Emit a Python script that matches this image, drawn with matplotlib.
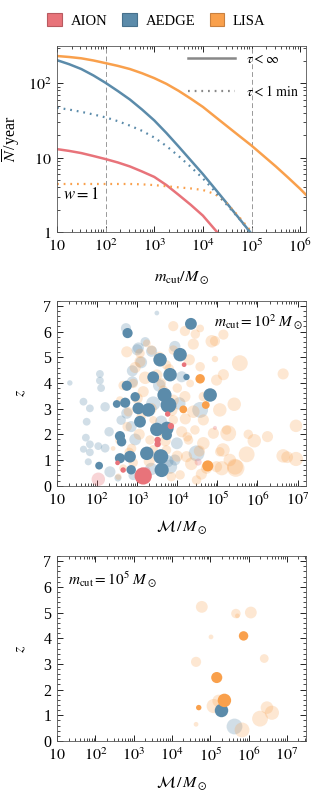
import numpy as np
import matplotlib
matplotlib.use("Agg")
from matplotlib import pyplot as plt
from matplotlib.lines import Line2D
from matplotlib.patches import Patch
from matplotlib.ticker import LogLocator, FuncFormatter, MultipleLocator, NullFormatter

plt.rcParams['font.family'] = 'serif'
plt.rcParams['font.serif'] = ['Liberation Serif', 'DejaVu Serif']
plt.rcParams['mathtext.fontset'] = 'stix'

# Colours
C_AION = '#E8737A'
C_AEDGE = '#5B8BAA'
C_LISA = '#F9A04C'

# ---------------- Panel 1: expected number of events vs m_cut ----------------
m_grid = [10, 17.8, 31.6, 56.2, 100, 178, 316, 562, 1000, 1778, 3162, 5623,
          1e4, 17783, 31623, 56234, 1e5, 177828, 316228, 562341, 1e6, 1.32e6]

lisa_m = m_grid
lisa_N = [232, 225, 216, 202, 186, 171, 155, 136, 117, 98, 79, 62,
          48, 35.5, 26.3, 19.5, 14.5, 10.5, 7.6, 5.4, 3.8, 3.16]

lisa_m_dot = m_grid[:16] + [1e5, 1.26e5]
lisa_N_dot = [4.42, 4.42, 4.42, 4.42, 4.42, 4.42, 4.42, 4.37, 4.27, 4.12, 3.98, 3.85,
              3.67, 3.24, 2.40, 1.58, 1.0, 0.81]

aedge_m = m_grid[:16] + [93325, 125893]
aedge_N = [204, 180, 155, 127, 101, 78.5, 60.3, 44.2, 31.6, 21.4, 14.1, 9.2,
           6.0, 3.8, 2.4, 1.51, 1.0, 0.78]

aedge_m_dot = m_grid[:16] + [93325, 125893]
aedge_N_dot = [46.8, 44.2, 41.2, 38.0, 34.7, 30.9, 26.9, 22.9, 18.6, 14.3, 10.5, 7.5,
               5.25, 3.5, 2.29, 1.50, 1.0, 0.78]

aion_m = m_grid[:13] + [19498, 25119]
aion_N = [13.0, 12.3, 11.5, 10.5, 9.55, 8.6, 7.6, 6.5, 5.5, 4.27, 3.16, 2.32,
          1.66, 1.0, 0.81]

# ---------------- Panel 2: events, m_cut = 1e2 ----------------
# AEDGE detected (log10 chirp mass, z, weight)
aedge_det_logm = [2.76, 4.34, 2.74, 3.57, 4.07, 3.82, 4.23, 3.40, 3.68, 3.78, 3.28, 3.03, 4.82,
                  2.49, 2.70, 2.95, 3.07, 3.49, 3.74, 3.74, 2.57, 2.61, 2.57, 2.05, 2.82, 3.24,
                  3.59, 3.61, 2.85]
aedge_det_z = [5.94, 6.30, 3.89, 4.90, 5.10, 4.32, 4.23, 4.22, 3.53, 3.14, 2.95, 3.01, 3.53,
               3.18, 3.23, 3.46, 2.49, 2.19, 2.23, 1.97, 1.93, 1.71, 1.07, 0.78, 1.13, 1.26,
               1.13, 0.61, 0.62]
aedge_det_w = [4.3, 5.0, 4.3, 5.7, 5.7, 5.7, 2.7, 5.0, 6.0, 6.7, 5.7, 5.0, 5.7,
               3.3, 4.3, 4.0, 5.0, 5.7, 5.7, 4.3, 4.3, 4.0, 4.3, 3.3, 5.0, 5.7,
               6.3, 6.0, 4.0]

aedge_und_logm = [2.72, 3.00, 2.88, 2.07, 2.07, 2.10, 1.32, 2.88, 3.49, 3.94, 3.03, 3.36,
                  1.66, 1.82, 2.20, 2.74, 1.74, 1.72, 1.82, 1.66, 1.82, 2.03, 2.20, 1.78,
                  2.32, 4.48, 3.94, 2.52, 4.57, 2.85, 3.99, 3.82, 3.40, 2.30, 4.11,
                  3.10, 3.55, 2.95, 3.35, 4.05, 3.60, 2.90, 3.75, 2.60, 3.20]
aedge_und_z = [6.13, 5.29, 4.47, 4.35, 4.09, 3.80, 4.00, 4.04, 6.72, 5.42, 5.36, 5.23,
               3.27, 3.01, 3.07, 2.82, 2.49, 1.87, 1.61, 1.42, 1.30, 1.54, 1.46, 0.93,
               0.54, 1.26, 1.00, 0.30, 2.95, 2.30, 1.65, 0.74, 3.20, 2.10, 4.24,
               4.80, 3.90, 1.80, 0.65, 3.20, 2.50, 0.40, 0.95, 2.55, 5.60]
aedge_und_w = [4.3, 4.7, 4.7, 3.3, 3.3, 3.3, 2.3, 4.7, 2.0, 4.7, 4.7, 4.7,
               3.3, 3.3, 4.0, 4.7, 3.3, 3.3, 3.3, 3.0, 3.3, 3.3, 3.7, 3.0,
               4.7, 6.7, 4.7, 3.0, 6.7, 4.7, 5.0, 6.0, 6.0, 4.0, 4.7,
               5.0, 5.3, 5.0, 5.3, 5.3, 5.0, 4.0, 5.3, 4.0, 4.0]

aion_det_logm = [4.17, 3.76, 3.84, 3.51, 3.51, 2.51, 2.65, 3.15]
aion_det_z = [4.71, 2.79, 2.32, 1.78, 1.62, 0.89, 0.61, 0.38]
aion_det_w = [2.0, 2.3, 2.7, 2.7, 2.7, 2.0, 2.3, 7.3]

aion_und_logm = [2.03, 4.94, 4.52, 3.24]
aion_und_z = [0.25, 2.25, 0.92, 0.60]
aion_und_w = [5.7, 1.7, 3.0, 3.0]

lisa_det_logm = [4.57, 4.71, 4.15, 4.76]
lisa_det_z = [4.16, 3.14, 2.97, 0.77]
lisa_det_w = [4.0, 3.3, 3.3, 4.7]

lisa_und_logm = [3.90, 4.19, 4.40, 4.86, 4.94, 5.15, 4.94, 5.56, 5.15, 6.64,
                 5.42, 5.06, 5.27, 5.77, 5.92, 6.25, 6.96, 5.14, 5.73, 6.64, 6.96, 6.74,
                 5.46, 5.11, 5.23, 4.57,
                 2.74, 3.07, 3.36, 3.07, 3.73, 3.49, 2.90, 3.15, 2.57, 2.78, 3.65, 4.19,
                 4.40, 4.65, 3.90, 4.11, 4.44, 4.28, 4.65, 4.90, 5.06, 5.31, 5.44, 4.98,
                 4.23, 3.73, 3.32, 2.86, 2.65, 3.15, 4.48, 4.73, 2.53, 3.40, 3.90, 3.57,
                 4.07, 2.40, 4.57, 4.98, 3.90, 3.24, 4.65, 4.32,
                 2.95, 3.20, 3.55, 3.80, 4.30, 4.45, 2.65, 3.00, 3.35, 3.85, 4.20, 2.75,
                 3.05, 3.40, 3.70, 4.00, 4.35, 2.90, 3.30, 3.85, 4.25, 4.55, 2.55, 3.60,
                 4.00, 3.10, 2.80, 4.60]
lisa_und_z = [6.21, 6.02, 5.51, 5.62, 4.93, 5.88, 5.63, 4.77, 4.32, 4.35,
              3.17, 2.95, 2.04, 2.00, 1.75, 1.91, 2.33, 1.39, 1.22, 1.16, 1.04, 1.11,
              0.68, 0.68, 2.17, 6.12,
              5.21, 5.15, 5.28, 4.83, 4.70, 4.31, 3.98, 3.66, 3.33, 2.88, 3.72, 3.47,
              2.88, 2.56, 2.56, 2.10, 2.17, 1.78, 1.65, 2.04, 1.32, 1.00, 0.74, 0.74,
              1.13, 1.39, 1.78, 1.45, 0.68, 0.48, 0.22, 0.68, 0.35, 2.56, 3.33, 2.10,
              0.42, 1.45, 4.63, 4.11, 5.28, 5.54, 3.47, 3.98,
              4.60, 4.20, 5.00, 4.55, 4.90, 5.90, 3.90, 3.40, 3.00, 2.95, 2.60, 2.30,
              2.00, 1.40, 1.75, 1.15, 0.85, 0.90, 0.95, 0.35, 1.90, 1.35, 1.75, 4.00,
              3.80, 2.70, 1.30, 0.45]
lisa_und_w = [4.3, 4.3, 4.7, 5.3, 2.7, 4.3, 4.3, 6.7, 4.7, 4.7,
              5.7, 5.7, 6.7, 4.0, 5.7, 4.7, 5.3, 5.7, 6.7, 5.7, 6.0, 5.0,
              7.3, 6.0, 4.0, 3.3,
              4.7, 4.0, 4.0, 4.7, 4.0, 4.7, 4.0, 4.7, 3.3, 4.0, 4.0, 4.7,
              5.3, 4.7, 4.0, 4.7, 4.0, 4.0, 5.3, 4.7, 4.0, 5.3, 6.7, 4.7,
              4.7, 4.0, 4.0, 4.0, 3.3, 4.0, 4.0, 4.7, 2.7, 3.3, 4.7, 4.0,
              4.0, 2.0, 4.0, 4.7, 4.0, 3.3, 4.0, 3.3,
              4.7, 5.3, 4.7, 4.0, 4.7, 4.0, 4.0, 4.7, 4.7, 5.3, 4.7, 4.0,
              4.7, 4.0, 4.7, 4.7, 5.3, 4.0, 4.7, 4.0, 4.0, 4.7, 3.3, 4.0,
              4.0, 4.0, 4.0, 4.7]

# ---------------- Panel 3: events, m_cut = 1e5 ----------------
p3_lisa_und_logm = [4.78, 5.67, 5.71, 6.06, 5.02, 6.41, 4.63, 5.09, 5.22, 5.83, 4.63, 6.30, 6.48, 6.61]
p3_lisa_und_z = [5.22, 4.96, 4.87, 5.00, 4.05, 3.21, 3.08, 1.36, 1.56, 0.43, 0.65, 0.87, 1.30, 1.10]
p3_lisa_und_w = [5.0, 4.0, 2.0, 5.0, 2.0, 3.7, 4.3, 6.0, 5.3, 6.3, 2.0, 6.7, 5.3, 6.0]

p3_lisa_det_logm = [5.87, 5.17, 5.37, 4.70]
p3_lisa_det_z = [4.09, 2.47, 1.58, 1.30]
p3_lisa_det_w = [4.0, 4.7, 5.7, 2.3]

p3_aedge_det_logm = [5.28]
p3_aedge_det_z = [1.21]
p3_aedge_det_w = [5.7]

p3_aedge_und_logm = [5.61]
p3_aedge_und_z = [0.58]
p3_aedge_und_w = [6.7]


def size(w):
    # weight -> marker area (points^2)
    return (1.7 * np.asarray(w)) ** 2


def logfmt(v, pos):
    k = int(round(np.log10(v)))
    if k == 0:
        return r"$1$"
    if k == 1:
        return r"$10$"
    return r"$10^{%d}$" % k


def frame(ax):
    ax.tick_params(which='both', direction='in', top=True, right=True, labelsize=11.5)
    ax.tick_params(axis='x', pad=4.5)
    ax.tick_params(axis='y', pad=4)
    ax.tick_params(which='major', length=4, width=0.6)
    ax.tick_params(which='minor', length=2, width=0.5)
    ax.xaxis.set_major_locator(LogLocator(base=10, numticks=12))
    ax.xaxis.set_minor_locator(LogLocator(base=10, subs=np.arange(2, 10), numticks=12))
    ax.xaxis.set_major_formatter(FuncFormatter(logfmt))
    ax.xaxis.set_minor_formatter(NullFormatter())
    for s in ax.spines.values():
        s.set_linewidth(0.6)
        s.set_color('#555555')


fig = plt.figure(figsize=(3.13, 8.0), dpi=100)
W, H = 313.0, 800.0

# ---- panel 1
ax1 = fig.add_axes([57 / W, 1 - 232 / H, 249 / W, 186 / H])
ax1.set_xscale('log')
ax1.set_yscale('log')
ax1.set_xlim(10, 10 ** 6.12)
ax1.set_ylim(1, 10 ** 2.5)
frame(ax1)
ax1.yaxis.set_major_locator(LogLocator(base=10, numticks=5))
ax1.yaxis.set_minor_locator(LogLocator(base=10, subs=np.arange(2, 10), numticks=5))
ax1.yaxis.set_major_formatter(FuncFormatter(logfmt))
ax1.yaxis.set_minor_formatter(NullFormatter())

for xv in [1e2, 1e5]:
    ax1.axvline(xv, color='#999999', lw=0.7, ls=(0, (5, 3)))

dots = (0, (0.8, 2.2))
ax1.plot(aion_m, aion_N, color=C_AION, lw=1.8)
ax1.plot(lisa_m, lisa_N, color=C_LISA, lw=1.8)
ax1.plot(aedge_m, aedge_N, color=C_AEDGE, lw=1.8)
ax1.plot(lisa_m_dot, lisa_N_dot, color=C_LISA, lw=1.6, ls=dots)
ax1.plot(aedge_m_dot, aedge_N_dot, color=C_AEDGE, lw=1.6, ls=dots)

hl = [Line2D([], [], color='#888888', lw=1.8),
      Line2D([], [], color='#888888', lw=1.6, ls=dots)]
ax1.legend(hl, [r"$\tau < \infty$", r"$\tau < 1\ \mathrm{min}$"], loc='upper right',
           frameon=False, fontsize=10, handlelength=3.4, labelspacing=1.3,
           borderaxespad=0.2, handletextpad=0.8, borderpad=0.3)
ax1.text(0.025, 0.2, r"$w = 1$", transform=ax1.transAxes, fontsize=12, va='center')
ax1.set_xlabel(r"$m_{\rm cut}/M_\odot$", fontsize=11.5)
ax1.set_ylabel(r"$\overline{N}\,$/year", fontsize=11.5)
ax1.xaxis.set_label_coords(0.5, -0.2)
ax1.yaxis.set_label_coords(-0.14, 0.5)


# ---- panels 2 and 3
def scatter_panel(ax, groups):
    for logm, z, w, col, a in groups:
        ax.scatter(10 ** np.asarray(logm), z, s=size(w), color=col, alpha=a,
                   linewidths=0, zorder=3 if a == 1 else 2)


ax2 = fig.add_axes([57 / W, 1 - 485.7 / H, 249 / W, 185 / H])
ax2.set_xscale('log')
ax2.set_xlim(10, 10 ** 7.21)
ax2.set_ylim(0, 7.2)
frame(ax2)
ax2.yaxis.set_major_locator(MultipleLocator(1))
ax2.yaxis.set_minor_locator(MultipleLocator(0.2))
scatter_panel(ax2, [
    (aedge_und_logm, aedge_und_z, aedge_und_w, C_AEDGE, 0.28),
    (lisa_und_logm, lisa_und_z, lisa_und_w, C_LISA, 0.25),
    (aion_und_logm, aion_und_z, aion_und_w, C_AION, 0.3),
    (aedge_det_logm, aedge_det_z, aedge_det_w, C_AEDGE, 1),
    (lisa_det_logm, lisa_det_z, lisa_det_w, C_LISA, 1),
    (aion_det_logm, aion_det_z, aion_det_w, C_AION, 1),
])
ax2.text(0.985, 0.885, r"$m_{\rm cut} = 10^2\ M_\odot$", transform=ax2.transAxes,
         ha='right', va='center', fontsize=11, zorder=5)
ax2.set_xlabel(r"$\mathcal{M}\,/\,M_\odot$", fontsize=11.5)
ax2.set_ylabel(r"$z$", fontsize=11.5)
ax2.xaxis.set_label_coords(0.5, -0.18)
ax2.yaxis.set_label_coords(-0.115, 0.5)

ax3 = fig.add_axes([57 / W, 1 - 741 / H, 249 / W, 185 / H])
ax3.set_xscale('log')
ax3.set_xlim(10, 10 ** 7.5)
ax3.set_ylim(0, 7.2)
frame(ax3)
ax3.yaxis.set_major_locator(MultipleLocator(1))
ax3.yaxis.set_minor_locator(MultipleLocator(0.2))
scatter_panel(ax3, [
    (p3_aedge_und_logm, p3_aedge_und_z, p3_aedge_und_w, C_AEDGE, 0.28),
    (p3_lisa_und_logm, p3_lisa_und_z, p3_lisa_und_w, C_LISA, 0.25),
    (p3_aedge_det_logm, p3_aedge_det_z, p3_aedge_det_w, C_AEDGE, 1),
    (p3_lisa_det_logm, p3_lisa_det_z, p3_lisa_det_w, C_LISA, 1),
])
ax3.text(0.045, 0.87, r"$m_{\rm cut} = 10^5\ M_\odot$", transform=ax3.transAxes,
         ha='left', va='center', fontsize=11)
ax3.set_xlabel(r"$\mathcal{M}\,/\,M_\odot$", fontsize=11.5)
ax3.set_ylabel(r"$z$", fontsize=11.5)
ax3.xaxis.set_label_coords(0.5, -0.18)
ax3.yaxis.set_label_coords(-0.115, 0.5)

# top legend
handles = [Patch(facecolor=c, edgecolor=ec, lw=0.8)
           for c, ec in [(C_AION, '#b85a60'), (C_AEDGE, '#46708c'), (C_LISA, '#c88040')]]
fig.legend(handles, ['AION', 'AEDGE', 'LISA'], loc='upper center', ncol=3,
           bbox_to_anchor=(0.5, 1.0), frameon=False, fontsize=10.5,
           handlelength=1.0, handleheight=1.0, columnspacing=1.0, handletextpad=0.6)

fig.savefig('out.png', dpi=100)
